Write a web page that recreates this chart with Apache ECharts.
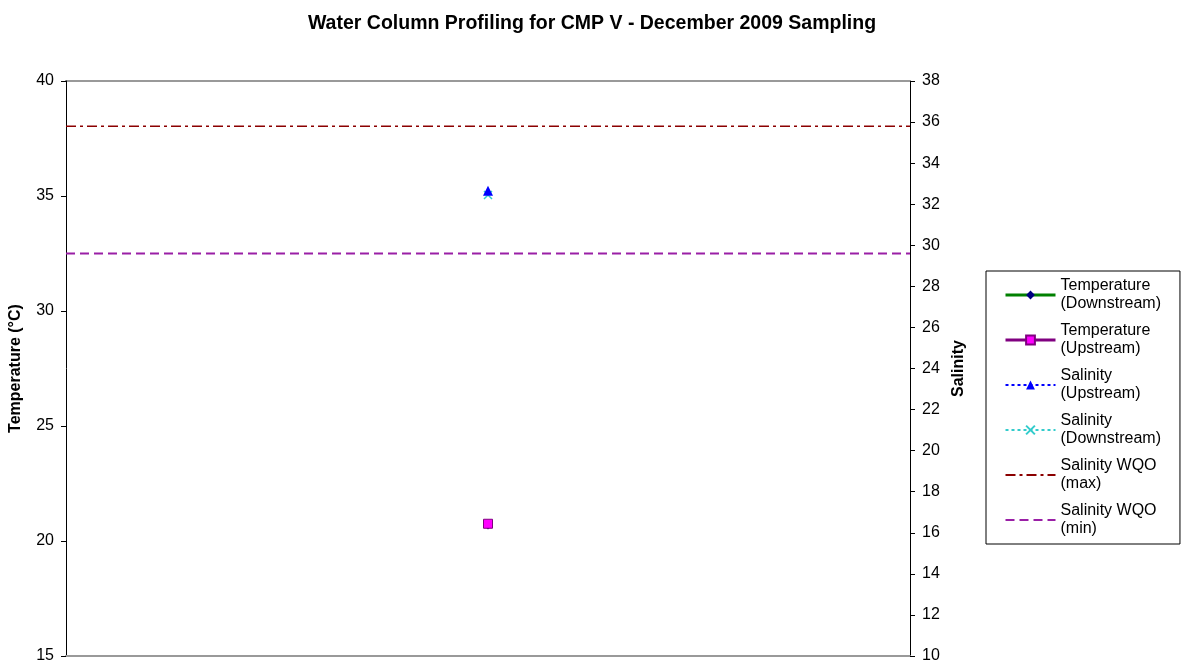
<!DOCTYPE html>
<html>
<head>
<meta charset="utf-8">
<script src="https://cdn.jsdelivr.net/npm/echarts@6/dist/echarts.min.js"></script>
<style>html,body{margin:0;padding:0;background:#fff}#c{width:1181px;height:664px}</style>
</head>
<body>
<div id="c"></div>
<script>
// Data
var sampleX = [1];                 // single sampling event, centered
var tempDownstream = [20.7];
var tempUpstream = [20.75];
var salUpstream = [32.65];
var salDownstream = [32.45];
var wqoX = [0, 2];
var wqoMax = [35.8, 35.8];
var wqoMin = [29.6, 29.6];
var tempTicks = [15, 20, 25, 30, 35, 40];
var salTicks = [10, 12, 14, 16, 18, 20, 22, 24, 26, 28, 30, 32, 34, 36, 38];

function pairs(xs, ys) { return xs.map(function (x, i) { return [x, ys[i]]; }); }

var chart = echarts.init(document.getElementById('c'));
var font = 'Liberation Sans, Arial, sans-serif';
chart.setOption({
  animation: false,
  backgroundColor: '#fff',
  title: {
    text: 'Water Column Profiling for CMP V - December 2009 Sampling',
    left: 587, top: 9, textAlign: 'center',
    textStyle: { fontFamily: font, fontSize: 19.5, fontWeight: 'bold', color: '#000' }
  },
  legend: {
    orient: 'vertical',
    left: 986, top: 271,
    padding: [6, 19, 6, 18],
    borderColor: '#000', borderWidth: 1,
    itemWidth: 50, itemHeight: 11, itemGap: 9,
    textStyle: { fontFamily: font, fontSize: 16, color: '#000', lineHeight: 18 },
    data: [
      { name: 'Temperature\n(Downstream)', lineStyle: { width: 3 } },
      { name: 'Temperature\n(Upstream)', lineStyle: { width: 3 } },
      'Salinity\n(Upstream)',
      'Salinity\n(Downstream)',
      { name: 'Salinity WQO\n(max)', itemStyle: { opacity: 0 } },
      { name: 'Salinity WQO\n(min)', itemStyle: { opacity: 0 } }
    ]
  },
  grid: { left: 65, right: 271, top: 81, bottom: 7 },
  xAxis: {
    type: 'value', min: 0, max: 2,
    axisLine: { show: true, onZero: false, lineStyle: { color: '#999', width: 2 } },
    axisTick: { show: false }, axisLabel: { show: false }, splitLine: { show: false }
  },
  yAxis: [
    {
      type: 'value', min: 15, max: 40, interval: 5, position: 'left',
      name: 'Temperature (°C)', nameLocation: 'middle', nameGap: 42, nameRotate: 90,
      nameTextStyle: { fontFamily: font, fontSize: 16, fontWeight: 'bold', color: '#000' },
      axisLine: { show: true, lineStyle: { color: '#000', width: 1 } },
      axisTick: { show: true, inside: false, length: 5, lineStyle: { color: '#000' } },
      axisLabel: { fontFamily: font, fontSize: 16, color: '#000', margin: 12,
        customValues: tempTicks },
      splitLine: { show: false }
    },
    {
      type: 'value', min: 10, max: 38, interval: 2, position: 'right',
      name: 'Salinity', nameLocation: 'middle', nameGap: 40, nameRotate: 90,
      nameTextStyle: { fontFamily: font, fontSize: 16, fontWeight: 'bold', color: '#000' },
      axisLine: { show: true, lineStyle: { color: '#000', width: 1 } },
      axisTick: { show: true, inside: false, length: 5, lineStyle: { color: '#000' } },
      axisLabel: { fontFamily: font, fontSize: 16, color: '#000', margin: 12,
        customValues: salTicks },
      splitLine: { show: false }
    }
  ],
  graphic: [{
    type: 'line', shape: { x1: 65, y1: 81, x2: 910, y2: 81 },
    style: { stroke: '#999', lineWidth: 2 }, silent: true, z: 0
  }],
  series: [
    {
      name: 'Temperature\n(Downstream)', type: 'line', yAxisIndex: 0,
      data: pairs(sampleX, tempDownstream),
      symbol: 'diamond', symbolSize: 9,
      itemStyle: { color: '#000080' },
      lineStyle: { color: '#008000', width: 3 }, z: 3
    },
    {
      name: 'Temperature\n(Upstream)', type: 'line', yAxisIndex: 0,
      data: pairs(sampleX, tempUpstream),
      symbol: 'rect', symbolSize: 9,
      itemStyle: { color: '#ff00ff', borderColor: '#800080', borderWidth: 1 },
      lineStyle: { color: '#800080', width: 3 }, z: 4
    },
    {
      name: 'Salinity\n(Upstream)', type: 'line', yAxisIndex: 1,
      data: pairs(sampleX, salUpstream),
      symbol: 'triangle', symbolSize: 10,
      itemStyle: { color: '#0000ff' },
      lineStyle: { color: '#0000ff', width: 2, type: [3, 3] }, z: 4
    },
    {
      name: 'Salinity\n(Downstream)', type: 'line', yAxisIndex: 1,
      data: pairs(sampleX, salDownstream),
      symbol: 'path://M0,0 L10,10 M10,0 L0,10', symbolSize: 8,
      itemStyle: { color: 'none', borderColor: '#33cccc', borderWidth: 1.5 },
      lineStyle: { color: '#33cccc', width: 2, type: [3, 3] }, z: 3
    },
    {
      name: 'Salinity WQO\n(max)', type: 'line', yAxisIndex: 1,
      data: pairs(wqoX, wqoMax), symbol: 'none',
      itemStyle: { color: '#8b0000' },
      lineStyle: { color: '#8b0000', width: 1.5, type: [10, 4, 3, 4] }, z: 2
    },
    {
      name: 'Salinity WQO\n(min)', type: 'line', yAxisIndex: 1,
      data: pairs(wqoX, wqoMin), symbol: 'none',
      itemStyle: { color: '#9a1fa6' },
      lineStyle: { color: '#9a1fa6', width: 2, type: [9, 5] }, z: 2
    }
  ]
});
</script>
</body>
</html>
